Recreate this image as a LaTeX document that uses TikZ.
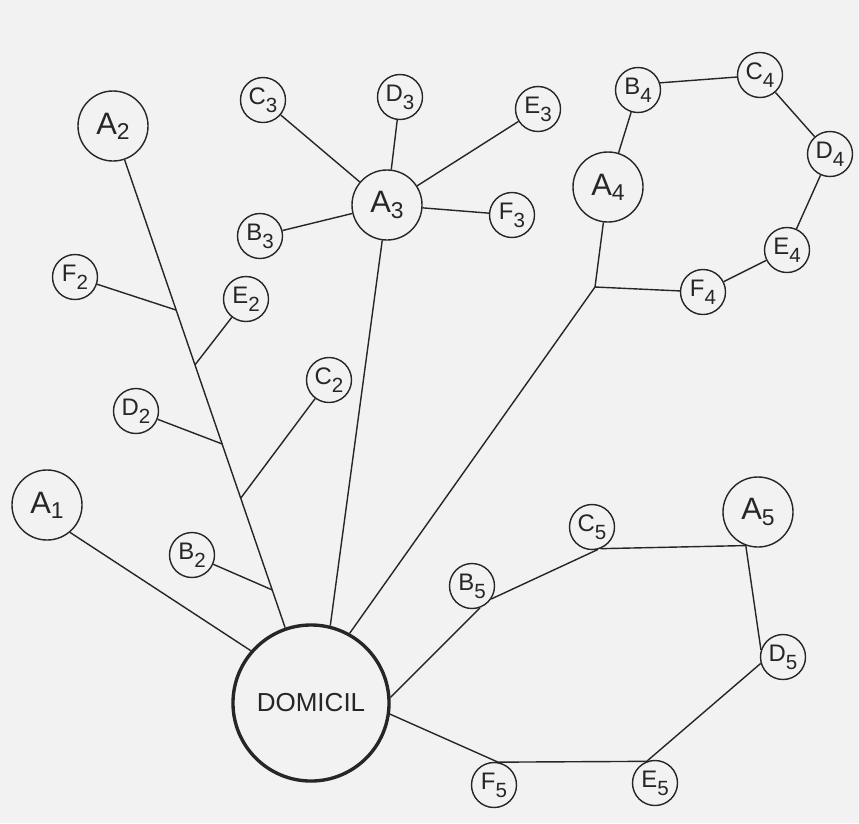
\documentclass[tikz,border=0pt]{standalone}
\usepackage{fontspec}
\setmainfont{Liberation Sans}
\usepackage{graphicx}
\usetikzlibrary{calc}
% letter with a lowered index digit; size and drop are set by the node style
\def\idxscale{0.8}
\def\idxdrop{0.45ex}
\newcommand\idx[2]{#1\raisebox{-\idxdrop}{\scalebox{\idxscale}{#2}}}

\begin{document}
\begin{tikzpicture}[x=0.025cm, y=-0.025cm,
  ring/.style={circle, draw=black!85, line width=1pt, inner sep=0pt, text=black!85},
  hub/.style={ring, minimum size=1.75cm,
    font={\fontsize{22}{22}\selectfont\def\idxscale{0.74}\def\idxdrop{0.32ex}}},
  leaf/.style={ring, minimum size=1.125cm,
    font={\fontsize{17}{17}\selectfont\def\idxscale{0.86}\def\idxdrop{0.62ex}}},
  home/.style={ring, minimum size=3.9cm, line width=2.4pt, font=\fontsize{18.5}{18.5}\selectfont},
  link/.style={draw=black!85, line width=1pt}]

\fill[black!5] (0,0) rectangle (859,823);
\useasboundingbox (0,0) rectangle (859,823);

% centre
\node[home] (dom) at (311,703) {DOMICIL};

% main destinations
\node[hub] (a1) at (47,505)  {\idx{A}{1}};
\node[hub] (a2) at (113,126) {\idx{A}{2}};
\node[hub] (a3) at (387,205) {\idx{A}{3}};
\node[hub] (a4) at (608,187) {\idx{A}{4}};
\node[hub] (a5) at (758,512) {\idx{A}{5}};

% branch 2
\node[leaf] (b2) at (192,555) {\idx{B}{2}};
\node[leaf] (c2) at (329,380) {\idx{C}{2}};
\node[leaf] (d2) at (136,411) {\idx{D}{2}};
\node[leaf] (e2) at (246,299) {\idx{E}{2}};
\node[leaf] (f2) at (75,277)  {\idx{F}{2}};

% branch 3
\node[leaf] (b3) at (260,236) {\idx{B}{3}};
\node[leaf] (c3) at (263,100) {\idx{C}{3}};
\node[leaf] (d3) at (400,97)  {\idx{D}{3}};
\node[leaf] (e3) at (538,109) {\idx{E}{3}};
\node[leaf] (f3) at (512,215) {\idx{F}{3}};

% branch 4
\node[leaf] (b4) at (638,90)  {\idx{B}{4}};
\node[leaf] (c4) at (760,75)  {\idx{C}{4}};
\node[leaf] (d4) at (830,154) {\idx{D}{4}};
\node[leaf] (e4) at (787,250) {\idx{E}{4}};
\node[leaf] (f4) at (703,292) {\idx{F}{4}};

% branch 5
\node[leaf] (b5) at (472,586) {\idx{B}{5}};
\node[leaf] (c5) at (592,527) {\idx{C}{5}};
\node[leaf] (d5) at (783,657) {\idx{D}{5}};
\node[leaf] (e5) at (655,783) {\idx{E}{5}};
\node[leaf] (f5) at (494,785) {\idx{F}{5}};

% junctions on the trunks
\coordinate (jf2) at ($(a2)!0.319!(dom)$);
\coordinate (je2) at ($(a2)!0.414!(dom)$);
\coordinate (jd2) at ($(a2)!0.551!(dom)$);
\coordinate (jc2) at ($(a2)!0.645!(dom)$);
\coordinate (jb2) at ($(a2)!0.804!(dom)$);
\coordinate (j4) at (595,287);

% branch 1
\draw[link] (a1.-50) -- (dom.139);

% branch 2: trunk and side stops
\draw[link] (a2) -- (dom);
\draw[link] (f2) -- (jf2);
\draw[link] (e2) -- (je2);
\draw[link] (d2) -- (jd2);
\draw[link] (c2) -- (jc2);
\draw[link] (b2) -- (jb2);

% branch 3: star round A3
\draw[link] (a3) -- (dom.76);
\foreach \n in {b3,c3,d3,e3,f3} \draw[link] (a3) -- (\n);

% branch 4: loop through A4
\draw[link] (a4) -- (j4) -- (dom.61);
\draw[link] (j4) -- (f4) -- (e4) -- (d4) -- (c4);
\draw[link] (c4.185) -- (b4.18);
\draw[link] (b4) -- (a4);

% branch 5: closed tour
\draw[link] (dom.4) -- (b5.-70);
\draw[link] (b5.-34) -- (c5.-75);
\draw[link] (c5.-69) -- (a5.-110) -- (d5.162);
\draw[link] (d5.196) -- (e5.111) -- (f5.80) -- (dom.-8);
\end{tikzpicture}
\end{document}
